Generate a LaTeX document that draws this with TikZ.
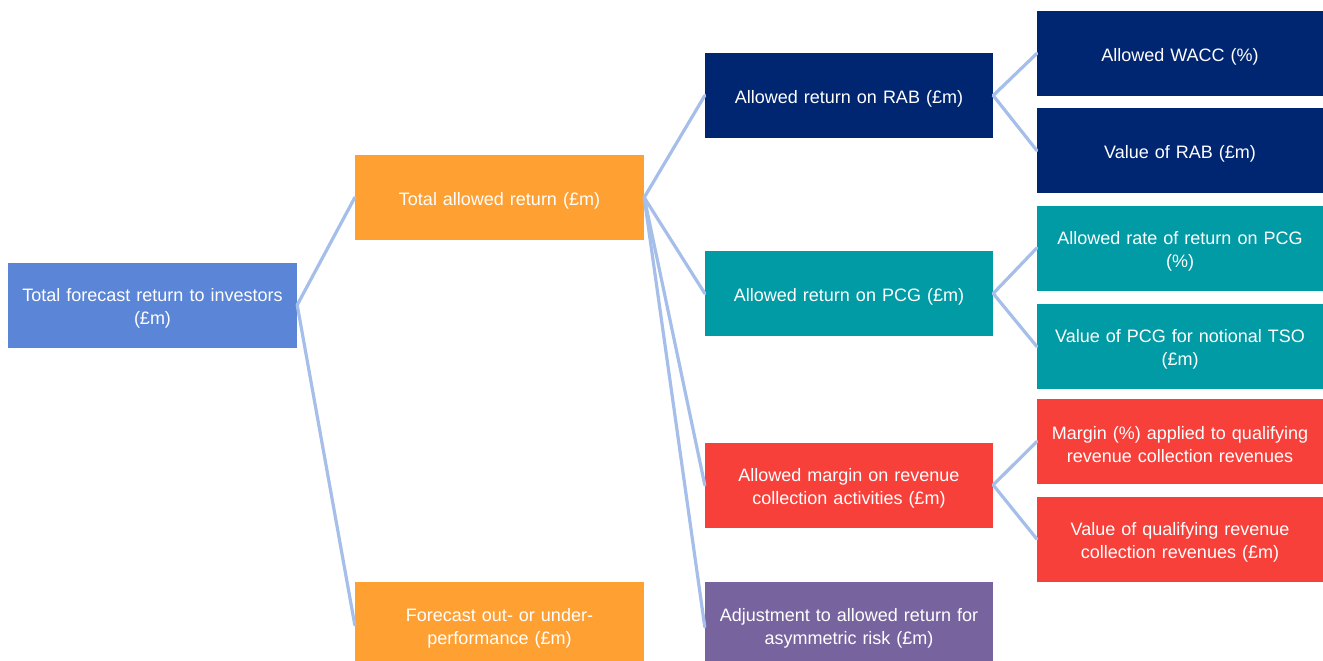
\documentclass[tikz,border=0pt]{standalone}
\usepackage{fontspec}
\setmainfont{Liberation Sans}
\definecolor{cRoot}{HTML}{5B85D6}
\definecolor{cOrange}{HTML}{FFA033}
\definecolor{cNavy}{HTML}{002672}
\definecolor{cTeal}{HTML}{009BA5}
\definecolor{cRed}{HTML}{F8403A}
\definecolor{cPurple}{HTML}{77649F}
\definecolor{cLine}{HTML}{A5BEEA}
\begin{document}
\begin{tikzpicture}[x=1pt,y=-1pt,
  box/.style={inner sep=0pt, minimum width=289pt, minimum height=85pt},
  txt/.style={inner sep=0pt, yshift=-3pt, text width=284pt, align=center, text=white, font=\fontsize{18}{23}\selectfont},
  conn/.style={draw=cLine, line width=3.2pt, line cap=round}]
\useasboundingbox (0,0) rectangle (1323,661);
\begin{scope}
\clip (0,0) rectangle (1323,661);
\node[box, fill=cRoot, label={[txt]center:{Total forecast return to investors\\(£m)}}] (root) at (152.5,305) {};
\node[box, fill=cOrange, label={[txt]center:{Total allowed return (£m)}}] (tar) at (499.5,197.5) {};
\node[box, fill=cOrange, minimum height=86pt, label={[txt]center:{Forecast out- or under-\\performance (£m)}}] (fo) at (499.5,625) {};
\node[box, fill=cNavy, minimum width=288pt, label={[txt]center:{Allowed return on RAB (£m)}}] (rab) at (849,95.5) {};
\node[box, fill=cTeal, minimum width=288pt, label={[txt]center:{Allowed return on PCG (£m)}}] (pcg) at (849,293.5) {};
\node[box, fill=cRed, minimum width=288pt, label={[txt]center:{Allowed margin on revenue\\collection activities (£m)}}] (mar) at (849,485) {};
\node[box, fill=cPurple, minimum width=288pt, minimum height=86pt, label={[txt]center:{Adjustment to allowed return for\\asymmetric risk (£m)}}] (adj) at (849,625) {};
\node[box, fill=cNavy, minimum width=286pt, label={[txt]center:{Allowed WACC (\%)}}] (wacc) at (1180,53.5) {};
\node[box, fill=cNavy, minimum width=286pt, label={[txt]center:{Value of RAB (£m)}}] (vrab) at (1180,150.5) {};
\node[box, fill=cTeal, minimum width=286pt, label={[txt]center:{Allowed rate of return on PCG\\(\%)}}] (rpcg) at (1180,248) {};
\node[box, fill=cTeal, minimum width=286pt, label={[txt]center:{Value of PCG for notional TSO\\(£m)}}] (vpcg) at (1180,346.5) {};
\node[box, fill=cRed, minimum width=286pt, label={[txt]center:{Margin (\%) applied to qualifying\\revenue collection revenues}}] (mpct) at (1180,441.5) {};
\node[box, fill=cRed, minimum width=286pt, label={[txt]center:{Value of qualifying revenue\\collection revenues (£m)}}] (vq) at (1180,539) {};
\draw[conn] (root.east) -- (tar.west);
\draw[conn] (root.east) -- (fo.west);
\draw[conn] (tar.east) -- (rab.west);
\draw[conn] (tar.east) -- (pcg.west);
\draw[conn] (tar.east) -- (mar.west);
\draw[conn] (tar.east) -- ([yshift=-2pt]adj.west);
\draw[conn] (rab.east) -- (wacc.west);
\draw[conn] (rab.east) -- (vrab.west);
\draw[conn] (pcg.east) -- (rpcg.west);
\draw[conn] (pcg.east) -- (vpcg.west);
\draw[conn] (mar.east) -- (mpct.west);
\draw[conn] (mar.east) -- (vq.west);
\end{scope}
\end{tikzpicture}
\end{document}
